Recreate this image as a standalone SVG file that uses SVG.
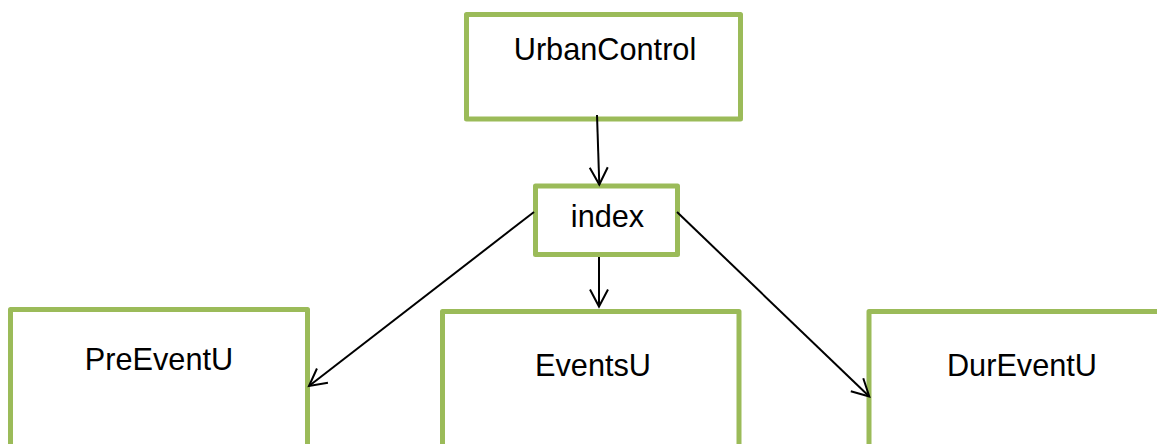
<svg xmlns="http://www.w3.org/2000/svg" width="1157" height="444" viewBox="0 0 1157 444">
  <style>
    .box { fill: #ffffff; stroke: #9bbb59; stroke-width: 5; stroke-linejoin: round; }
    .label { font-family: "Liberation Sans", Arial, sans-serif; font-size: 30.7px; fill: #000000; text-anchor: middle; }
    .edge { fill: none; stroke: #000000; stroke-width: 2; marker-end: url(#arrow); }
  </style>
  <defs>
    <marker id="arrow" markerUnits="userSpaceOnUse" markerWidth="24" markerHeight="24" viewBox="-20 -12 24 24" refX="0" refY="0" orient="auto">
      <path d="M-17,-9 L0,0 L-17,9" fill="none" stroke="#000000" stroke-width="2" stroke-linejoin="miter"/>
    </marker>
  </defs>

  <rect width="1157" height="444" fill="#ffffff"/>

  <g id="urbancontrol">
    <rect class="box" x="466.5" y="14.5" width="274" height="104.5"/>
    <text class="label" x="605" y="60">UrbanControl</text>
  </g>

  <g id="index">
    <rect class="box" x="535.5" y="186" width="142" height="68.5"/>
    <text class="label" x="607.5" y="227">index</text>
  </g>

  <g id="preeventu">
    <rect class="box" x="10.5" y="309.5" width="297" height="150"/>
    <text class="label" x="159" y="370">PreEventU</text>
  </g>

  <g id="eventsu">
    <rect class="box" x="442.5" y="311.5" width="296.5" height="150"/>
    <text class="label" x="593" y="376">EventsU</text>
  </g>

  <g id="dureventu">
    <rect class="box" x="869" y="311.5" width="320" height="150"/>
    <text class="label" x="1022" y="376">DurEventU</text>
  </g>

  <g id="connectors">
    <line class="edge" x1="597" y1="115" x2="599.3" y2="184.5"/>
    <line class="edge" x1="599" y1="257" x2="599" y2="306.5"/>
    <line class="edge" x1="534" y1="212" x2="309" y2="386"/>
    <line class="edge" x1="677" y1="212" x2="869.3" y2="396.5"/>
  </g>
</svg>
